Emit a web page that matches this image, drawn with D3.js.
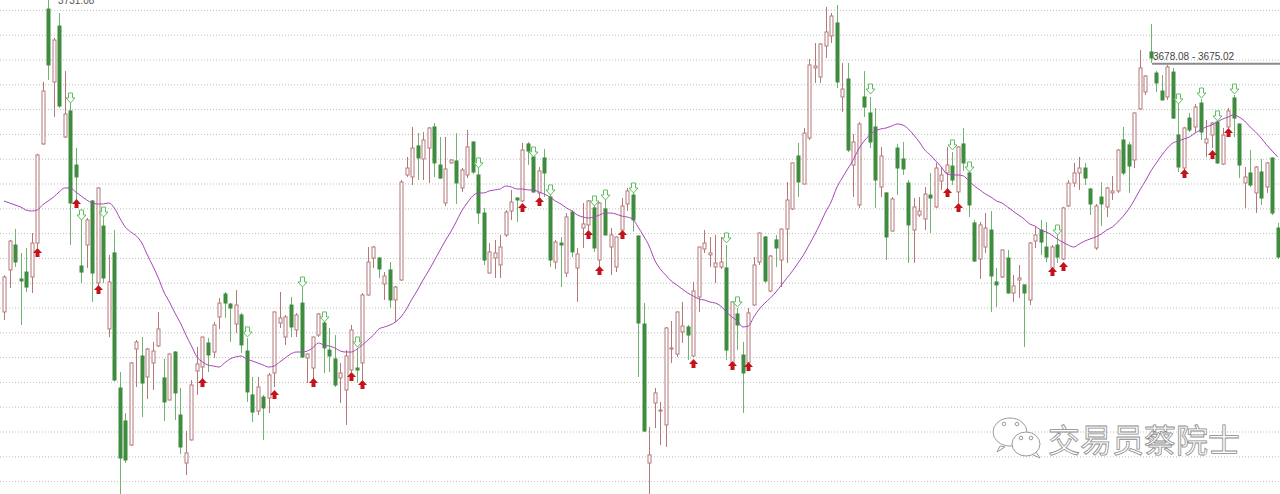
<!DOCTYPE html>
<html><head><meta charset="utf-8">
<script src="https://cdn.jsdelivr.net/npm/d3@7"></script>
<style>html,body{margin:0;padding:0;background:#fff;overflow:hidden}svg{display:block}</style>
</head><body><svg id="c" width="1280" height="494"></svg>
<script>
const openP = [3476.4,3510.3,3530.4,3503.0,3508.6,3504.6,3532.0,3611.9,3720.7,3661.9,
3707.0,3617.5,3638.5,3594.9,3513.5,3530.4,3565.9,3499.8,3545.7,3462.7,
3524.0,3415.1,3388.5,3369.1,3446.5,3440.9,3424.0,3435.3,3449.0,3423.2,
3405.4,3444.1,3393.3,3354.6,3373.2,3428.8,3432.0,3451.4,3444.1,3472.4,
3490.9,3482.8,3466.7,3474.0,3444.9,3409.5,3396.5,3407.8,3407.0,3427.2,
3467.5,3456.2,3482.0,3461.9,3483.6,3439.3,3431.2,3457.8,3467.5,3445.7,
3438.5,3423.2,3413.5,3429.6,3431.2,3435.3,3490.1,3519.9,3519.9,3499.0,
3510.3,3486.1,3502.2,3586.9,3585.3,3610.3,3599.8,3608.6,3625.6,3594.9,
3564.3,3596.6,3598.2,3576.4,3586.9,3613.5,3586.9,3556.2,3507.8,3519.9,
3514.3,3538.5,3557.8,3568.3,3565.9,3611.9,3601.4,3572.4,3600.6,3569.1,
3516.7,3532.0,3507.8,3557.0,3511.9,3544.1,3546.6,3560.3,3518.3,3559.5,
3528.8,3512.7,3542.5,3563.5,3570.7,3537.7,3466.7,3354.6,3403.0,3396.5,
3385.3,3446.5,3442.5,3460.3,3464.3,3440.9,3488.5,3527.2,3522.4,3512.7,
3512.7,3511.9,3433.6,3474.8,3441.7,3435.3,3482.0,3516.7,3536.9,3493.3,
3534.5,3518.3,3543.3,3559.5,3602.2,3579.6,3616.7,3673.2,3665.9,3690.9,
3699.0,3709.5,3649.8,3664.3,3594.9,3562.7,3649.8,3636.9,3625.6,3577.2,
3572.4,3541.7,3608.6,3599.8,3580.4,3542.5,3554.6,3551.4,3570.7,3561.1,
3582.0,3588.5,3594.1,3573.2,3611.9,3588.5,3548.2,3519.1,3528.8,3542.5,
3500.6,3504.6,3519.9,3491.7,3502.2,3498.2,3486.1,3533.6,3542.5,3528.8,
3511.9,3530.4,3519.1,3561.9,3580.4,3588.5,3592.5,3575.6,3528.0,3569.1,
3561.1,3572.4,3574.0,3615.1,3611.1,3599.0,3640.1,3653.8,3686.1,3669.1,
3654.6,3649.8,3669.9,3619.1,3592.5,3632.8,3625.6,3644.9,3612.7,3619.1,
3629.6,3595.7,3625.6,3649.0,3628.0,3580.4,3588.5,3572.4,3589.3,3577.2,
3600.6,3544.1];
const highP = [3506.0,3534.5,3543.3,3524.0,3528.0,3540.1,3604.0,3661.9,3731.08,3697.4,
3717.5,3670.7,3644.9,3608.6,3550.6,3552.2,3566.7,3577.0,3556.2,3522.4,
3542.5,3428.0,3394.9,3436.0,3453.8,3456.2,3447.4,3452.2,3476.4,3438.5,
3443.0,3444.9,3415.1,3380.4,3421.5,3448.2,3456.5,3455.4,3468.3,3487.7,
3492.5,3483.6,3494.1,3475.6,3455.4,3424.0,3424.0,3409.5,3427.2,3476.8,
3492.5,3474.0,3488.5,3475.6,3496.5,3443.0,3456.5,3475.6,3475.6,3463.5,
3457.8,3435.3,3445.7,3465.9,3447.4,3491.7,3528.8,3529.6,3520.7,3508.6,
3516.7,3497.4,3582.8,3601.4,3625.6,3620.7,3621.5,3625.6,3628.8,3617.5,
3617.5,3599.5,3620.7,3592.5,3623.2,3614.0,3592.5,3560.3,3532.0,3534.5,
3538.5,3558.6,3574.8,3569.1,3612.7,3613.5,3605.4,3593.3,3607.8,3574.8,
3534.5,3536.9,3556.2,3558.6,3528.0,3564.3,3566.7,3566.7,3565.1,3568.3,
3544.1,3537.2,3568.3,3576.4,3572.4,3538.0,3483.6,3383.6,3415.1,3403.8,
3464.3,3469.1,3476.8,3484.5,3465.9,3500.6,3529.0,3542.5,3536.9,3538.5,
3536.9,3530.4,3484.8,3479.6,3452.2,3479.6,3520.7,3540.5,3537.5,3522.4,
3538.5,3543.7,3581.2,3597.0,3612.7,3624.8,3680.4,3693.3,3693.3,3722.4,
3717.5,3724.0,3677.2,3677.2,3619.9,3629.6,3670.7,3649.8,3640.9,3609.5,
3573.0,3569.1,3611.9,3613.5,3582.8,3568.3,3569.1,3577.2,3588.5,3596.6,
3593.3,3609.5,3605.4,3610.0,3624.8,3589.3,3550.6,3549.0,3556.2,3557.8,
3511.9,3526.8,3526.4,3506.2,3514.3,3498.5,3532.8,3544.9,3550.6,3549.0,
3530.4,3540.1,3561.1,3582.8,3596.6,3601.4,3596.6,3576.4,3563.5,3581.2,
3577.2,3586.1,3607.8,3625.6,3613.5,3637.3,3687.7,3667.5,3708.6,3670.7,
3667.5,3675.6,3673.2,3644.9,3625.6,3636.9,3644.1,3648.2,3631.2,3629.6,
3630.4,3624.8,3640.9,3651.4,3628.4,3593.3,3607.0,3594.1,3599.8,3597.4,
3601.0,3548.2];
const lowP = [3469.9,3495.7,3512.7,3465.9,3492.5,3491.7,3528.0,3611.1,3663.5,3633.6,
3641.0,3616.7,3530.4,3566.7,3499.8,3511.9,3484.5,3494.1,3499.8,3456.2,
3420.5,3328.0,3354.6,3368.5,3415.9,3391.7,3406.2,3413.5,3448.2,3388.5,
3405.0,3389.3,3361.9,3344.9,3372.8,3409.5,3419.9,3428.0,3439.3,3462.7,
3471.6,3452.2,3459.5,3443.3,3403.8,3387.7,3393.3,3373.2,3394.9,3415.9,
3463.5,3449.8,3456.2,3456.2,3439.3,3419.1,3421.5,3456.2,3427.2,3428.0,
3415.9,3403.0,3385.3,3428.0,3419.1,3421.5,3489.5,3511.9,3503.8,3486.1,
3479.6,3468.3,3501.4,3585.3,3578.8,3582.8,3582.8,3580.4,3585.3,3584.0,
3561.9,3596.0,3563.5,3573.2,3584.4,3587.7,3547.4,3514.3,3507.5,3503.8,
3503.8,3536.9,3550.6,3549.0,3565.1,3594.9,3572.4,3569.1,3569.1,3512.7,
3511.1,3496.5,3504.6,3520.7,3484.5,3528.0,3542.5,3524.8,3512.7,3538.0,
3506.2,3508.6,3542.0,3557.8,3541.2,3424.0,3379.6,3329.0,3382.8,3369.1,
3367.5,3435.3,3440.1,3451.4,3437.7,3440.1,3476.4,3524.0,3512.7,3499.8,
3511.1,3437.7,3433.0,3445.7,3394.9,3435.0,3481.5,3514.3,3499.8,3492.5,
3512.7,3496.5,3515.9,3558.6,3569.1,3579.0,3615.1,3661.1,3661.1,3681.2,
3693.3,3657.0,3637.7,3605.4,3569.1,3560.3,3633.6,3608.6,3560.3,3569.1,
3518.3,3541.2,3570.7,3586.9,3515.9,3515.9,3553.0,3542.5,3540.1,3560.3,
3574.8,3574.8,3578.8,3564.3,3590.1,3553.0,3516.7,3503.0,3524.0,3476.4,
3480.4,3503.8,3491.2,3484.5,3487.7,3448.2,3482.0,3528.0,3522.4,3516.7,
3510.3,3515.9,3518.3,3561.1,3577.2,3574.8,3578.8,3554.6,3526.4,3545.7,
3553.0,3566.7,3572.4,3586.9,3572.4,3592.5,3639.3,3651.4,3677.2,3653.8,
3647.0,3647.4,3632.0,3589.3,3590.9,3621.5,3620.7,3615.1,3601.4,3608.6,
3595.7,3594.9,3624.8,3617.5,3584.4,3560.3,3577.2,3556.2,3562.7,3572.4,
3554.6,3519.1];
const closeP = [3504.6,3533.6,3516.7,3501.4,3496.5,3532.0,3603.0,3654.6,3675.6,3695.7,
3642.5,3636.1,3564.3,3585.3,3508.6,3550.6,3507.8,3576.4,3503.8,3500.6,
3421.5,3358.6,3357.0,3435.3,3452.2,3419.1,3446.5,3444.9,3462.7,3403.8,
3442.5,3411.1,3367.5,3362.7,3417.5,3434.5,3456.2,3441.7,3465.9,3483.6,
3483.6,3479.6,3482.0,3449.8,3411.9,3395.7,3415.9,3399.0,3425.6,3476.4,
3471.6,3472.4,3464.3,3474.0,3440.1,3442.5,3456.2,3474.8,3447.4,3440.9,
3417.5,3427.2,3440.9,3461.9,3429.6,3490.1,3516.7,3528.8,3511.1,3505.4,
3486.1,3496.5,3581.2,3592.5,3608.6,3600.6,3615.1,3624.8,3596.6,3584.4,
3591.7,3599.0,3580.4,3590.9,3609.5,3589.3,3556.2,3518.3,3524.8,3524.0,
3528.8,3557.0,3565.1,3566.7,3607.0,3606.2,3573.2,3590.1,3588.5,3518.3,
3532.8,3530.4,3553.0,3524.8,3523.2,3547.4,3565.9,3528.0,3564.3,3538.5,
3538.5,3536.9,3561.9,3574.0,3550.6,3467.5,3380.4,3361.1,3411.1,3397.3,
3463.5,3447.4,3476.4,3465.1,3457.8,3493.3,3528.8,3532.0,3524.0,3515.9,
3516.7,3445.7,3484.5,3465.9,3427.2,3475.6,3514.3,3540.1,3501.4,3521.5,
3528.0,3543.3,3566.7,3596.6,3581.2,3620.7,3675.6,3674.8,3692.5,3702.2,
3715.1,3661.9,3656.2,3607.0,3613.5,3628.0,3641.7,3613.5,3582.8,3602.2,
3536.9,3567.5,3592.5,3591.7,3546.6,3561.1,3557.8,3571.5,3568.3,3592.5,
3586.9,3594.9,3582.8,3609.5,3596.6,3562.7,3517.5,3546.6,3544.1,3505.4,
3498.2,3526.4,3491.7,3497.4,3503.8,3491.7,3532.0,3538.5,3532.8,3520.7,
3528.8,3520.7,3560.3,3580.4,3588.5,3592.5,3584.4,3563.5,3561.9,3563.5,
3576.4,3574.0,3607.0,3588.5,3594.1,3636.9,3673.2,3666.7,3681.2,3661.1,
3647.4,3674.0,3632.8,3593.3,3624.8,3623.2,3641.7,3621.5,3615.9,3628.8,
3596.6,3619.1,3638.5,3632.8,3594.9,3585.3,3578.8,3593.3,3568.3,3596.6,
3556.2,3520.7];
const maP = [3565.9,3564.3,3562.7,3561.1,3558.6,3557.8,3558.6,3562.7,3565.9,3569.1,
3573.2,3576.4,3576.4,3573.2,3569.9,3566.7,3564.3,3563.5,3563.5,3564.3,
3560.3,3552.2,3544.9,3540.9,3537.7,3532.0,3522.4,3513.5,3503.8,3492.5,
3484.5,3475.6,3467.5,3457.8,3449.0,3440.1,3436.1,3433.6,3432.8,3432.0,
3435.3,3438.5,3440.1,3440.9,3438.5,3436.9,3435.3,3433.6,3432.0,3432.8,
3436.1,3439.3,3442.5,3444.1,3444.1,3444.9,3447.4,3451.4,3449.8,3449.0,
3447.4,3444.9,3444.1,3444.1,3446.5,3449.8,3453.8,3457.8,3462.7,3464.3,
3465.9,3468.3,3472.4,3478.8,3486.9,3494.1,3502.2,3509.5,3517.5,3525.6,
3533.6,3540.9,3549.0,3557.8,3564.3,3569.9,3572.4,3572.4,3574.0,3574.8,
3575.6,3578.0,3577.2,3575.6,3575.6,3574.8,3574.8,3573.2,3571.5,3569.1,
3565.9,3563.5,3560.3,3557.8,3554.6,3553.0,3552.2,3553.0,3554.6,3556.2,
3556.2,3555.4,3553.8,3553.0,3551.4,3544.9,3537.7,3529.6,3518.3,3511.1,
3506.2,3501.4,3498.2,3494.9,3491.7,3489.3,3486.9,3486.1,3484.5,3483.6,
3481.2,3476.4,3472.4,3469.1,3464.3,3465.1,3472.4,3478.8,3483.6,3487.7,
3492.5,3498.2,3503.8,3509.5,3515.9,3522.4,3530.4,3538.5,3547.4,3557.0,
3565.1,3576.4,3584.4,3591.7,3599.0,3607.8,3614.3,3619.1,3622.4,3624.0,
3624.8,3626.4,3628.0,3627.2,3624.0,3619.1,3613.5,3607.0,3603.0,3598.2,
3593.3,3587.7,3586.9,3586.9,3586.1,3582.0,3578.0,3574.8,3571.5,3569.1,
3565.9,3564.3,3561.1,3557.8,3554.6,3551.4,3547.4,3545.7,3542.5,3540.9,
3538.5,3535.3,3532.8,3530.4,3528.8,3531.2,3533.6,3535.3,3536.9,3539.3,
3542.5,3544.9,3549.0,3553.8,3559.5,3566.7,3574.8,3582.0,3590.1,3596.6,
3603.0,3608.6,3612.7,3614.3,3615.9,3617.5,3620.7,3623.2,3625.6,3627.2,
3629.6,3632.0,3633.6,3635.3,3633.6,3630.4,3625.6,3621.5,3616.7,3611.1,
3606.2,3601.4];
const buyIdx   = [6,13,17,36,49,56,63,65,94,97,106,108,112,125,132,135,171,173,190,192,214,219,222];
const buyPrice = [3524.0,3563.5,3494.1,3419.1,3409.5,3419.1,3424.0,3417.5,3560.3,3565.1,3538.5,3509.5,3538.5,3434.5,3432.8,3432.0,3572.4,3560.3,3508.6,3512.7,3587.7,3603.0,3620.7];
const sellIdx   = [12,14,18,44,54,58,64,86,96,99,107,109,114,131,133,157,172,175,191,213,217,220,223];
const sellPrice = [3649.0,3554.6,3557.0,3460.3,3500.6,3472.4,3452.2,3596.6,3605.4,3574.8,3565.9,3570.7,3576.4,3536.1,3484.5,3656.2,3611.1,3593.3,3542.5,3648.2,3653.0,3634.5,3656.2];
const gridTicks = [3720,3700,3680,3660,3640,3620,3600,3580,3560,3540,3520,3500,3480,3460,3440,3420,3400,3380,3360,3340];
const peakLabel = "3731.08";
const rangeHigh = 3678.08, rangeLow = 3675.02;
const watermarkText = "交易员蔡院士";

const W = 1280, H = 494;
const svg = d3.select("#c");
svg.append("rect").attr("width", W).attr("height", H).attr("fill", "#fff");
const x = d3.scaleLinear().domain([0, openP.length - 1]).range([4, 1277.7]);
const y = d3.scaleLinear().domain([3329.6, 3728]).range([H, 0]);

// grid
const gridAxis = d3.axisLeft(y).tickValues(gridTicks).tickSize(-W).tickFormat("");
const gg = svg.append("g").attr("transform", "translate(0,0)").call(gridAxis);
gg.select(".domain").remove();
gg.selectAll(".tick line").attr("stroke", "#bdbdbd").attr("stroke-dasharray", "1,2").attr("x1", 0).attr("x2", W);

// watermark
const wm = svg.append("g").attr("fill", "#fff").attr("stroke", "#9a9a9a").attr("stroke-width", 1);
wm.append("path").attr("d", "M1000,446 L997,452 L1005,447 Z");
wm.append("ellipse").attr("cx", 1010).attr("cy", 432).attr("rx", 17).attr("ry", 14);
wm.append("path").attr("d", "M1036,452 L1040,458 L1031,454 Z");
wm.append("ellipse").attr("cx", 1026).attr("cy", 444).attr("rx", 14).attr("ry", 12);
[[1004,424],[1017,424],[1021,438],[1031,438]].forEach(p => wm.append("circle").attr("cx", p[0]).attr("cy", p[1]).attr("r", 1.8));
svg.append("text").attr("x", 1048).attr("y", 452).attr("font-family", "'Noto Sans CJK SC', sans-serif")
  .attr("font-size", 32).attr("fill", "#fff").attr("stroke", "#8c8c8c").attr("stroke-width", 0.8)
  .attr("letter-spacing", 0).text(watermarkText);

const data = openP.map((o, i) => ({i, o, h: highP[i], l: lowP[i], c: closeP[i]}));
const upCol = "#b57878", dnCol = "#3f8c3f", dnWick = "#6fb56f";
const cg = svg.append("g");
const px = d => Math.round(x(d.i));
cg.selectAll("line.w").data(data).join("line").attr("class", "w")
  .attr("x1", d => px(d) + 0.5).attr("x2", d => px(d) + 0.5)
  .attr("y1", d => y(d.h)).attr("y2", d => y(d.l))
  .attr("stroke", d => d.c >= d.o ? upCol : dnWick).attr("stroke-width", 1);
cg.selectAll("rect.b").data(data).join("rect").attr("class", "b")
  .attr("x", d => px(d) - 1)
  .attr("y", d => y(Math.max(d.o, d.c)))
  .attr("width", 3)
  .attr("height", d => Math.max(1, Math.abs(y(d.o) - y(d.c))))
  .attr("fill", d => d.c >= d.o ? "#fff" : dnCol)
  .attr("stroke", d => d.c >= d.o ? upCol : dnCol).attr("stroke-width", 1);

// moving average
const line = d3.line().x((d, i) => x(i)).y(d => y(d)).curve(d3.curveMonotoneX);
svg.append("path").datum(maP).attr("d", line).attr("fill", "none").attr("stroke", "#a646b8").attr("stroke-width", 1);

// buy arrows (red, up)
svg.append("g").selectAll("path").data(buyIdx).join("path")
  .attr("transform", (d, k) => `translate(${Math.round(x(d)) + 0.5},${y(buyPrice[k])})`)
  .attr("d", "M0,-5 L4.5,0 L2,0 L2,4 L-2,4 L-2,0 L-4.5,0 Z")
  .attr("fill", "#c4121a");
// sell arrows (green outline, down)
svg.append("g").selectAll("path").data(sellIdx).join("path")
  .attr("transform", (d, k) => `translate(${Math.round(x(d)) + 0.5},${y(sellPrice[k])})`)
  .attr("d", "M0,5 L4.5,0 L2,0 L2,-5 L-2,-5 L-2,0 L-4.5,0 Z")
  .attr("fill", "#fff").attr("stroke", "#5cc05c").attr("stroke-width", 1);

// labels
const peakI = highP.indexOf(d3.max(highP));
svg.append("text").attr("x", x(peakI) + 10).attr("y", y(d3.max(highP)) + 7.5)
  .attr("font-family", "Arial, 'Liberation Sans', sans-serif").attr("font-size", 10).attr("fill", "#555").text(peakLabel);
const midR = (rangeHigh + rangeLow) / 2;
svg.append("line").attr("x1", 1152).attr("x2", W).attr("y1", y(midR)).attr("y2", y(midR))
  .attr("stroke", "#8a8a8a").attr("stroke-width", 2);
svg.append("text").attr("x", 1153).attr("y", y(midR) - 3.5)
  .attr("font-family", "Arial, 'Liberation Sans', sans-serif").attr("font-size", 10).attr("fill", "#444")
  .text(rangeHigh.toFixed(2) + " - " + rangeLow.toFixed(2));
</script></body></html>
